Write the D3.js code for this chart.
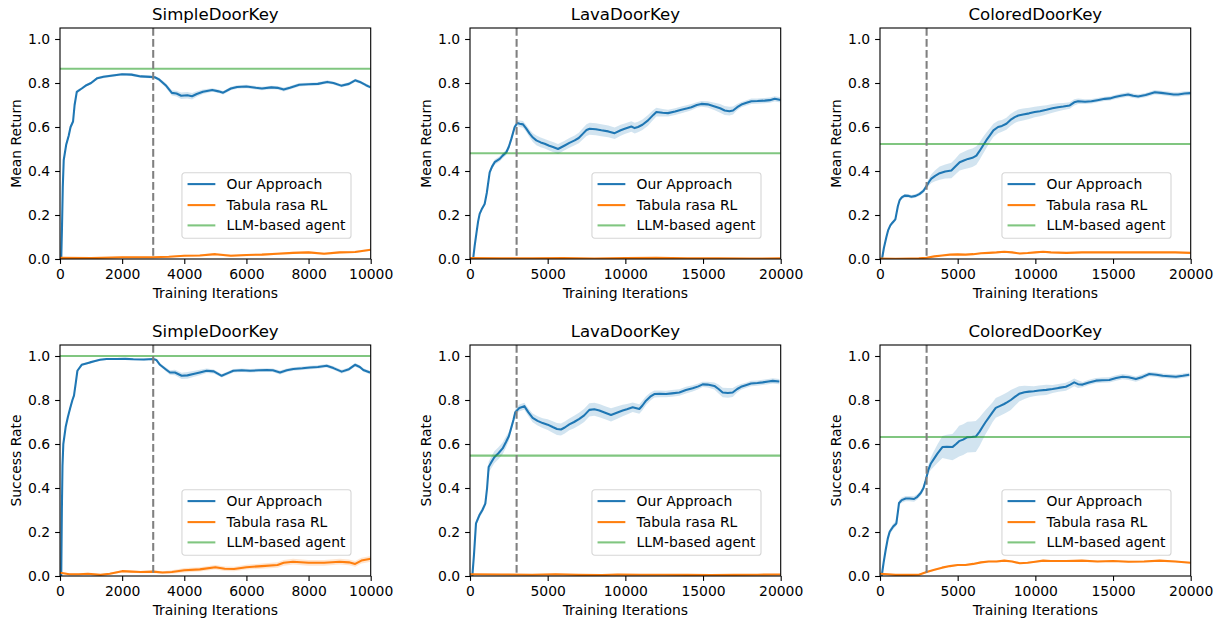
<!DOCTYPE html>
<html lang="en">
<head>
<meta charset="UTF-8">
<title>DoorKey training curves</title>
<script src="https://d3js.org/d3.v7.min.js"></script>
<style>
  body { margin: 0; background: #fff; }
  svg text { font-family: 'DejaVu Sans', sans-serif; fill: #000; }
</style>
</head>
<body>
<div id="chart"></div>
<script>
// ---- data: [iteration, mean, band half-width] ----
const simpleReturnOurs = [
  [40,0,0],[65,0.15,0.01],[90,0.33,0.01],[120,0.45,0.01],[200,0.52,0.01],[280,0.56,0.01],[340,0.60,0.01],
  [420,0.625,0.01],[470,0.70,0.01],[540,0.76,0.008],[700,0.775,0.006],[850,0.79,0.006],[1000,0.80,0.006],
  [1200,0.822,0.006],[1400,0.828,0.006],[1700,0.834,0.006],[2000,0.840,0.006],[2300,0.838,0.006],
  [2600,0.830,0.006],[2900,0.828,0.006],[3050,0.826,0.006],[3200,0.815,0.008],[3400,0.79,0.01],
  [3600,0.755,0.012],[3750,0.752,0.013],[3900,0.742,0.015],[4100,0.744,0.015],[4250,0.74,0.015],
  [4400,0.75,0.012],[4600,0.76,0.01],[4900,0.768,0.008],[5100,0.762,0.008],[5250,0.756,0.008],
  [5500,0.775,0.008],[5700,0.782,0.008],[6000,0.784,0.008],[6300,0.778,0.008],[6500,0.775,0.008],
  [6800,0.780,0.008],[7000,0.778,0.008],[7200,0.770,0.009],[7400,0.778,0.008],[7700,0.792,0.008],
  [8000,0.794,0.007],[8300,0.796,0.007],[8600,0.805,0.007],[8800,0.800,0.007],[9050,0.788,0.007],
  [9300,0.796,0.007],[9500,0.812,0.007],[9650,0.805,0.007],[9850,0.790,0.007],[10000,0.780,0.007]
];
const simpleReturnRL = [
  [0,0.005,0.003],[1000,0.004,0.003],[2000,0.008,0.003],[3000,0.008,0.003],[3500,0.01,0.003],
  [4000,0.015,0.004],[4500,0.016,0.004],[5000,0.022,0.005],[5500,0.015,0.005],[6000,0.018,0.005],
  [6500,0.02,0.005],[7000,0.024,0.005],[7500,0.028,0.005],[8000,0.03,0.005],[8500,0.024,0.005],
  [9000,0.03,0.005],[9500,0.032,0.005],[10000,0.042,0.005]
];
const lavaReturnOurs = [
  [200,0,0],[300,0.06,0.008],[408,0.114,0.008],[520,0.17,0.008],[622,0.205,0.008],[780,0.23,0.008],
  [944,0.25,0.008],[1080,0.30,0.01],[1266,0.394,0.012],[1420,0.42,0.012],[1588,0.44,0.012],[1910,0.455,0.012],
  [2100,0.47,0.012],[2339,0.485,0.012],[2500,0.51,0.012],[2661,0.546,0.012],[2875,0.60,0.013],[3047,0.618,0.014],
  [3200,0.615,0.015],[3412,0.612,0.015],[3600,0.595,0.016],[3841,0.57,0.018],[4050,0.552,0.02],
  [4270,0.539,0.022],[4550,0.53,0.022],[4807,0.524,0.022],[5100,0.515,0.022],[5343,0.509,0.023],
  [5665,0.50,0.023],[6094,0.516,0.022],[6400,0.528,0.022],[6738,0.539,0.022],[7000,0.55,0.024],
  [7274,0.57,0.026],[7500,0.586,0.027],[7703,0.592,0.027],[8100,0.59,0.027],[8454,0.585,0.027],
  [8900,0.58,0.027],[9313,0.572,0.026],[9700,0.585,0.025],[9957,0.592,0.024],[10386,0.602,0.024],
  [10600,0.595,0.024],[10815,0.60,0.024],[11100,0.61,0.024],[11459,0.63,0.024],[11800,0.655,0.022],
  [11996,0.668,0.02],[12400,0.665,0.017],[12747,0.663,0.015],[13200,0.67,0.015],[13606,0.678,0.015],
  [14000,0.685,0.015],[14250,0.69,0.014],[14600,0.70,0.013],[14893,0.705,0.013],[15300,0.703,0.014],
  [15751,0.693,0.017],[16100,0.685,0.02],[16395,0.675,0.02],[16700,0.672,0.02],[16932,0.675,0.018],
  [17200,0.69,0.014],[17468,0.702,0.012],[17800,0.71,0.012],[18112,0.717,0.012],[18500,0.718,0.012],
  [18970,0.72,0.012],[19300,0.722,0.012],[19614,0.728,0.012],[20000,0.723,0.012]
];
const lavaReturnRL = [
  [0,0.004,0.002],[2000,0.003,0.002],[4000,0.003,0.002],[6000,0.004,0.002],[8000,0.002,0.002],
  [10000,0.004,0.002],[12000,0.005,0.002],[14000,0.003,0.002],[16000,0.003,0.002],[18000,0.002,0.002],
  [20000,0.003,0.002]
];
const coloredReturnOurs = [
  [130,0,0],[250,0.05,0.008],[408,0.099,0.008],[520,0.13,0.008],[666,0.153,0.008],[800,0.165,0.008],
  [988,0.18,0.008],[1150,0.24,0.008],[1267,0.268,0.008],[1400,0.28,0.008],[1589,0.288,0.008],
  [1800,0.287,0.008],[2018,0.283,0.008],[2300,0.287,0.008],[2555,0.296,0.009],[2800,0.31,0.01],
  [2984,0.33,0.012],[3150,0.35,0.016],[3306,0.365,0.02],[3550,0.378,0.025],[3843,0.39,0.03],
  [4200,0.398,0.032],[4594,0.402,0.035],[4850,0.42,0.036],[5130,0.44,0.038],[5400,0.448,0.04],
  [5667,0.455,0.042],[5950,0.46,0.042],[6204,0.47,0.042],[6400,0.49,0.04],[6633,0.516,0.038],
  [6850,0.54,0.035],[7063,0.561,0.032],[7300,0.585,0.03],[7600,0.60,0.028],[7850,0.605,0.027],
  [8136,0.615,0.027],[8400,0.632,0.027],[8673,0.645,0.027],[8900,0.652,0.027],[9210,0.657,0.027],
  [9600,0.662,0.026],[9961,0.668,0.024],[10300,0.672,0.023],[10712,0.678,0.021],[11100,0.685,0.02],
  [11464,0.69,0.018],[11800,0.693,0.016],[12215,0.698,0.015],[12500,0.712,0.014],[12752,0.717,0.012],
  [13200,0.715,0.011],[13611,0.717,0.01],[14000,0.722,0.01],[14470,0.728,0.01],[14800,0.73,0.01],
  [15114,0.736,0.01],[15500,0.742,0.01],[15973,0.748,0.01],[16300,0.742,0.01],[16617,0.739,0.01],
  [17100,0.745,0.01],[17690,0.758,0.01],[18100,0.755,0.01],[18549,0.751,0.01],[18900,0.748,0.01],
  [19194,0.748,0.01],[19600,0.752,0.01],[20000,0.754,0.01]
];
const coloredReturnRL = [
  [0,0.002,0.002],[1000,0.001,0.002],[2000,0.002,0.002],[2500,0.003,0.002],[3000,0.006,0.002],
  [3500,0.012,0.003],[4000,0.016,0.003],[4500,0.02,0.003],[5000,0.021,0.003],[5500,0.02,0.003],
  [6000,0.022,0.003],[6500,0.026,0.003],[7000,0.028,0.003],[7500,0.03,0.003],[8000,0.033,0.003],
  [8500,0.03,0.003],[9000,0.025,0.003],[9500,0.027,0.003],[10000,0.03,0.003],[10500,0.033,0.003],
  [11000,0.03,0.003],[12000,0.028,0.003],[13000,0.03,0.003],[14000,0.03,0.003],[15000,0.03,0.003],
  [16000,0.03,0.003],[17000,0.031,0.003],[18000,0.03,0.003],[19000,0.03,0.003],[20000,0.028,0.003]
];
const simpleSuccessOurs = [
  [40,0,0],[60,0.3,0.01],[80,0.5,0.01],[107,0.60,0.01],[182,0.677,0.01],[250,0.72,0.01],[322,0.76,0.01],
  [400,0.80,0.01],[450,0.82,0.01],[510,0.88,0.008],[560,0.933,0.006],[697,0.96,0.005],[966,0.971,0.005],
  [1100,0.976,0.004],[1288,0.983,0.004],[1500,0.986,0.004],[1824,0.986,0.004],[2100,0.987,0.004],
  [2360,0.985,0.004],[2700,0.984,0.004],[3004,0.986,0.004],[3100,0.982,0.005],[3218,0.96,0.007],
  [3400,0.94,0.009],[3540,0.925,0.01],[3700,0.925,0.012],[3916,0.91,0.014],[4100,0.912,0.015],
  [4291,0.918,0.014],[4500,0.925,0.012],[4720,0.933,0.01],[4950,0.93,0.009],[5203,0.91,0.008],
  [5400,0.922,0.008],[5579,0.933,0.008],[5850,0.935,0.008],[6115,0.933,0.008],[6400,0.935,0.008],
  [6652,0.936,0.008],[6850,0.935,0.008],[7081,0.925,0.009],[7300,0.935,0.008],[7510,0.941,0.008],
  [7800,0.944,0.008],[8046,0.948,0.008],[8300,0.95,0.008],[8583,0.956,0.008],[8800,0.945,0.008],
  [9066,0.929,0.008],[9300,0.94,0.008],[9495,0.96,0.008],[9650,0.95,0.008],[9763,0.936,0.008],
  [9978,0.925,0.008]
];
const simpleSuccessRL = [
  [0,0.015,0.004],[300,0.008,0.004],[600,0.008,0.004],[900,0.01,0.004],[1300,0.005,0.004],
  [1600,0.01,0.004],[1800,0.016,0.005],[2000,0.022,0.005],[2300,0.02,0.005],[2600,0.018,0.005],
  [3000,0.02,0.006],[3300,0.016,0.006],[3600,0.018,0.008],[4000,0.026,0.01],[4500,0.03,0.01],
  [5000,0.04,0.01],[5300,0.033,0.01],[5600,0.032,0.01],[6000,0.04,0.011],[6500,0.045,0.012],
  [7000,0.05,0.013],[7200,0.06,0.013],[7500,0.065,0.013],[8000,0.06,0.013],[8500,0.06,0.013],
  [9000,0.065,0.013],[9300,0.062,0.013],[9500,0.055,0.013],[9700,0.07,0.013],[10000,0.078,0.013]
];
const lavaSuccessOurs = [
  [150,0,0],[260,0.10,0.01],[386,0.239,0.012],[601,0.276,0.012],[800,0.30,0.012],[987,0.329,0.014],
  [1100,0.40,0.02],[1201,0.495,0.024],[1400,0.52,0.027],[1566,0.54,0.027],[1845,0.559,0.027],
  [2100,0.58,0.027],[2317,0.609,0.025],[2500,0.635,0.02],[2639,0.669,0.017],[2800,0.71,0.015],
  [2918,0.745,0.015],[3175,0.764,0.015],[3497,0.772,0.016],[3750,0.745,0.018],[4033,0.719,0.02],
  [4350,0.705,0.021],[4677,0.695,0.022],[5000,0.688,0.024],[5321,0.677,0.026],[5600,0.668,0.027],
  [5857,0.666,0.027],[6100,0.675,0.027],[6394,0.689,0.027],[6700,0.70,0.028],[7038,0.714,0.029],
  [7350,0.73,0.03],[7682,0.755,0.03],[8000,0.758,0.03],[8326,0.752,0.03],[8700,0.742,0.03],
  [9077,0.732,0.03],[9450,0.742,0.028],[9828,0.752,0.026],[10100,0.758,0.024],[10471,0.767,0.022],
  [10900,0.759,0.022],[11100,0.775,0.022],[11330,0.797,0.02],[11600,0.815,0.018],[11866,0.827,0.016],
  [12200,0.828,0.015],[12617,0.827,0.015],[13000,0.83,0.015],[13475,0.834,0.015],[13900,0.845,0.015],
  [14334,0.853,0.014],[14700,0.862,0.013],[14978,0.871,0.012],[15300,0.87,0.013],[15729,0.864,0.016],
  [16000,0.85,0.02],[16265,0.834,0.022],[16600,0.832,0.022],[16909,0.834,0.02],[17200,0.85,0.016],
  [17446,0.86,0.013],[17800,0.868,0.012],[18090,0.875,0.012],[18500,0.877,0.012],[18841,0.88,0.012],
  [19200,0.884,0.012],[19485,0.887,0.012],[19914,0.884,0.012]
];
const lavaSuccessRL = [
  [0,0.008,0.003],[2000,0.007,0.003],[4000,0.006,0.003],[5500,0.008,0.003],[7000,0.005,0.003],
  [8500,0.004,0.003],[9500,0.007,0.003],[11000,0.006,0.003],[12500,0.006,0.003],[14000,0.005,0.003],
  [15500,0.004,0.003],[17000,0.005,0.003],[18500,0.006,0.003],[20000,0.007,0.003]
];
const coloredSuccessOurs = [
  [110,0,0],[230,0.06,0.012],[365,0.118,0.012],[500,0.17,0.012],[623,0.201,0.012],[850,0.225,0.012],
  [1053,0.239,0.012],[1150,0.29,0.012],[1225,0.332,0.012],[1400,0.345,0.012],[1654,0.352,0.012],
  [1900,0.352,0.012],[2191,0.35,0.012],[2400,0.36,0.012],[2621,0.377,0.012],[2800,0.40,0.012],
  [2943,0.435,0.015],[3100,0.48,0.02],[3265,0.51,0.028],[3450,0.53,0.035],[3695,0.556,0.042],
  [4017,0.586,0.05],[4300,0.587,0.055],[4661,0.586,0.06],[4900,0.60,0.065],[5091,0.613,0.07],
  [5350,0.62,0.07],[5628,0.631,0.07],[5900,0.632,0.07],[6165,0.634,0.07],[6400,0.655,0.065],
  [6594,0.677,0.06],[6800,0.70,0.055],[7024,0.722,0.05],[7250,0.745,0.045],[7453,0.764,0.045],
  [7700,0.772,0.045],[7990,0.782,0.045],[8200,0.79,0.045],[8420,0.80,0.045],[8700,0.815,0.04],
  [8957,0.828,0.035],[9300,0.835,0.03],[9601,0.838,0.026],[9900,0.84,0.023],[10246,0.843,0.023],
  [10700,0.846,0.023],[11105,0.85,0.018],[11500,0.855,0.018],[11964,0.86,0.018],[12250,0.87,0.018],
  [12501,0.88,0.018],[12750,0.872,0.018],[13038,0.87,0.012],[13450,0.88,0.012],[13897,0.888,0.012],
  [14300,0.89,0.012],[14756,0.891,0.012],[15200,0.9,0.012],[15615,0.906,0.012],[16000,0.903,0.012],
  [16474,0.895,0.012],[16900,0.905,0.012],[17333,0.918,0.01],[17800,0.915,0.01],[18192,0.91,0.01],
  [18600,0.908,0.01],[19051,0.906,0.01],[19500,0.91,0.01],[19910,0.915,0.01]
];
const coloredSuccessRL = [
  [0,0.01,0.003],[500,0.008,0.003],[1000,0.005,0.003],[1500,0.005,0.003],[2000,0.005,0.003],
  [2500,0.006,0.003],[3000,0.018,0.004],[3500,0.028,0.004],[4000,0.038,0.004],[4500,0.045,0.004],
  [5000,0.05,0.004],[5500,0.05,0.004],[6000,0.055,0.004],[6500,0.062,0.004],[7000,0.066,0.004],
  [7500,0.066,0.004],[8000,0.07,0.004],[8500,0.066,0.004],[9000,0.058,0.004],[9500,0.06,0.004],
  [10000,0.065,0.004],[10500,0.07,0.004],[11000,0.068,0.004],[12000,0.068,0.004],[13000,0.07,0.004],
  [14000,0.066,0.004],[15000,0.068,0.004],[16000,0.065,0.004],[17000,0.066,0.004],[18000,0.07,0.004],
  [19000,0.066,0.004],[20000,0.06,0.004]
];

const envTitles = ["SimpleDoorKey", "LavaDoorKey", "ColoredDoorKey"];
const envMaxIter = [10000, 20000, 20000];
const simpleTicks = [0, 2000, 4000, 6000, 8000, 10000];
const longTicks = [0, 5000, 10000, 15000, 20000];
const yTicks = [0, 0.2, 0.4, 0.6, 0.8, 1.0];
const metricLabels = ["Mean Return", "Success Rate"];
const llmReturn = [0.865, 0.481, 0.523];
const llmSuccess = [1.0, 0.547, 0.632];
const switchIter = 3000;
const legendLabels = ["Our Approach", "Tabula rasa RL", "LLM-based agent"];

// ---- layout ----
const width = 1219, height = 620;
const plotLeft = [60, 470, 880], plotW = 310.7;
const plotTop = [28, 345], plotH = 231;
const blue = "#1f77b4", orange = "#ff7f0e", green = "#2ca02c";
const fs = 13.9;

const panels = [
  { row: 0, col: 0, ours: simpleReturnOurs, rl: simpleReturnRL, llm: llmReturn[0] },
  { row: 0, col: 1, ours: lavaReturnOurs, rl: lavaReturnRL, llm: llmReturn[1] },
  { row: 0, col: 2, ours: coloredReturnOurs, rl: coloredReturnRL, llm: llmReturn[2] },
  { row: 1, col: 0, ours: simpleSuccessOurs, rl: simpleSuccessRL, llm: llmSuccess[0] },
  { row: 1, col: 1, ours: lavaSuccessOurs, rl: lavaSuccessRL, llm: llmSuccess[1] },
  { row: 1, col: 2, ours: coloredSuccessOurs, rl: coloredSuccessRL, llm: llmSuccess[2] }
];

const svg = d3.select("#chart").append("svg")
  .attr("width", width).attr("height", height)
  .style("background", "#fff");

panels.forEach((p, i) => {
  const x0 = plotLeft[p.col], y0 = plotTop[p.row];
  const g = svg.append("g").attr("transform", `translate(${x0},${y0})`);

  const x = d3.scaleLinear().domain([0, envMaxIter[p.col]]).range([0, plotW]);
  const y = d3.scaleLinear().domain([0, 1.05]).range([plotH, 0]);

  const clipId = "clip" + i;
  g.append("clipPath").attr("id", clipId)
    .append("rect").attr("width", plotW).attr("height", plotH);
  const plot = g.append("g").attr("clip-path", `url(#${clipId})`);

  const area = d3.area()
    .x(d => x(d[0])).y0(d => y(d[1] - d[2])).y1(d => y(d[1] + d[2]));
  const line = d3.line().x(d => x(d[0])).y(d => y(d[1]));

  plot.append("path").datum(p.ours).attr("d", area)
    .attr("fill", blue).attr("fill-opacity", 0.2);
  plot.append("path").datum(p.rl).attr("d", area)
    .attr("fill", orange).attr("fill-opacity", 0.2);
  plot.append("path").datum(p.ours).attr("d", line)
    .attr("fill", "none").attr("stroke", blue).attr("stroke-width", 2.08)
    .attr("stroke-linejoin", "round");
  plot.append("path").datum(p.rl).attr("d", line)
    .attr("fill", "none").attr("stroke", orange).attr("stroke-width", 2.08)
    .attr("stroke-linejoin", "round");

  // LLM baseline and switch point
  plot.append("line")
    .attr("x1", 0).attr("x2", plotW)
    .attr("y1", y(p.llm)).attr("y2", y(p.llm))
    .attr("stroke", green).attr("stroke-opacity", 0.6).attr("stroke-width", 2.08);
  plot.append("line")
    .attr("x1", x(switchIter)).attr("x2", x(switchIter))
    .attr("y1", 0).attr("y2", plotH)
    .attr("stroke", "#808080").attr("stroke-width", 2.08)
    .attr("stroke-dasharray", "7.7,3.3");

  // axes
  const xAxis = d3.axisBottom(x)
    .tickValues(p.col === 0 ? simpleTicks : longTicks)
    .tickFormat(d3.format("d")).tickSize(4.9).tickPadding(4.9);
  const yAxis = d3.axisLeft(y)
    .tickValues(yTicks).tickFormat(d3.format(".1f")).tickSize(4.9).tickPadding(4.9);

  const gx = g.append("g").attr("transform", `translate(0,${plotH})`).call(xAxis);
  const gy = g.append("g").call(yAxis);
  [gx, gy].forEach(a => {
    a.select(".domain").remove();
    a.selectAll(".tick line").attr("stroke", "#000").attr("stroke-width", 1.1);
    a.selectAll(".tick text").attr("font-size", fs).attr("fill", "#000")
      .style("font-family", "'DejaVu Sans', sans-serif");
  });
  gx.selectAll(".tick text").attr("dy", "0.76em");

  g.append("rect").attr("width", plotW).attr("height", plotH)
    .attr("fill", "none").attr("stroke", "#000").attr("stroke-width", 1.1);

  // titles and labels
  g.append("text").attr("x", plotW / 2).attr("y", -8.3)
    .attr("text-anchor", "middle").attr("font-size", 16.6)
    .text(envTitles[p.col]);
  g.append("text").attr("x", plotW / 2).attr("y", plotH + 39)
    .attr("text-anchor", "middle").attr("font-size", fs)
    .text("Training Iterations");
  g.append("text")
    .attr("transform", `translate(${-39.5},${plotH / 2}) rotate(-90)`)
    .attr("text-anchor", "middle").attr("font-size", fs)
    .text(metricLabels[p.row]);

  // legend
  const lg = g.append("g");
  const box = lg.append("rect");
  const colors = [blue, orange, green];
  const rowsY = [11.3, 32.3, 52.6];
  let maxW = 0;
  legendLabels.forEach((lab, k) => {
    lg.append("line")
      .attr("x1", 5.6).attr("x2", 33.4).attr("y1", rowsY[k]).attr("y2", rowsY[k])
      .attr("stroke", colors[k]).attr("stroke-width", 2.08)
      .attr("stroke-opacity", k === 2 ? 0.6 : 1);
    const t = lg.append("text").attr("x", 44.5).attr("y", rowsY[k])
      .attr("dy", "0.36em").attr("font-size", fs).text(lab);
    maxW = Math.max(maxW, t.node().getComputedTextLength());
  });
  const boxW = 44.5 + maxW + 5.6, boxH = 65.5;
  box.attr("width", boxW).attr("height", boxH).attr("rx", 2.8)
    .attr("fill", "#fff").attr("fill-opacity", 0.8)
    .attr("stroke", "#d6d6d6").attr("stroke-width", 1.1);
  lg.attr("transform", `translate(${plotW - 19.7 - boxW},${plotH - 20.7 - boxH})`);
});
</script>
</body>
</html>
